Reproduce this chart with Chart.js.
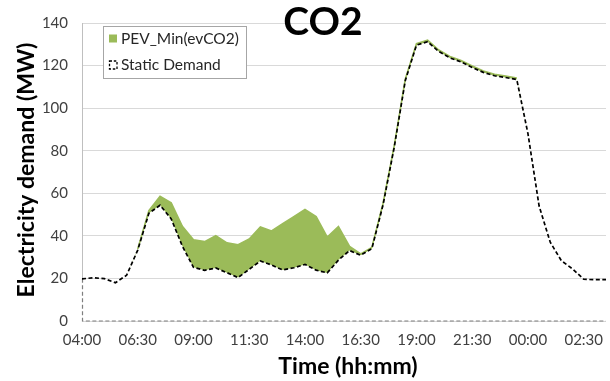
<!DOCTYPE html>
<html>
<head>
<meta charset="utf-8">
<style>
  html, body { margin: 0; padding: 0; overflow: hidden; background: #ffffff; }
  #wrap { width: 616px; height: 381px; position: relative; }
</style>
<script src="https://cdn.jsdelivr.net/npm/chart.js@4/dist/chart.umd.min.js"></script>
</head>
<body>
<div id="wrap"><canvas id="chart" width="616" height="381"></canvas></div>
<script>
// Half-hourly time slots over one day, starting at 04:00
const times = [
  '04:00','04:30','05:00','05:30','06:00','06:30','07:00','07:30',
  '08:00','08:30','09:00','09:30','10:00','10:30','11:00','11:30',
  '12:00','12:30','13:00','13:30','14:00','14:30','15:00','15:30',
  '16:00','16:30','17:00','17:30','18:00','18:30','19:00','19:30',
  '20:00','20:30','21:00','21:30','22:00','22:30','23:00','23:30',
  '00:00','00:30','01:00','01:30','02:00','02:30','03:00','03:30'
];

// Labels shown on the time axis
const timeTicks = ['04:00','06:30','09:00','11:30','14:00','16:30','19:00','21:30','00:00','02:30'];

// Base (static) electricity demand, MW
const staticDemand = [
  19.8, 20.3, 19.9, 18.0, 21.5, 33.3, 50.6, 54.4,
  48.0, 35.2, 25.2, 23.8, 24.9, 22.7, 20.4, 24.3,
  28.2, 26.3, 24.0, 25.0, 26.6, 23.9, 22.6, 28.6,
  33.1, 30.9, 34.0, 54.5, 81.5, 113.0, 129.6, 131.2,
  126.6, 123.6, 121.7, 119.1, 116.8, 115.2, 114.4, 113.4,
  88.0, 54.0, 37.0, 28.3, 24.5, 19.6, 19.4, 19.4
];

// Additional PEV charging load (CO2-minimising schedule), MW, stacked on the static demand
const pevMinCO2 = [
  0, 0, 0, 0, 0, 0.5, 1.2, 4.2,
  7.5, 9.3, 13.0, 13.5, 15.2, 14.0, 15.4, 14.2,
  16.0, 16.0, 21.7, 24.0, 25.8, 25.2, 16.8, 15.8,
  2.0, 0.6, 0.6, 0.7, 0.7, 0.7, 0.7, 0.7,
  0.7, 0.7, 0.7, 0.7, 0.7, 0.7, 0.7, 0.7,
  0, 0, 0, 0, 0, 0, 0, 0
];

// Demand axis range
const yMin = 0;
const yMax = 140;
const yStep = 20;

const GREEN = '#9BBB59';
const TEXT = '#404040';
const FONT = 'Lato, "Open Sans", sans-serif';

// Axis line, dashed outline of the static-demand area, titles and legend box
const decor = {
  id: 'decor',
  beforeDatasetsDraw(chart) {
    const { ctx, chartArea } = chart;
    const y = chart.scales.y;
    const y0 = y.getPixelForValue(0);
    const yFirst = y.getPixelForValue(staticDemand[0]);
    ctx.save();
    // solid vertical axis line above the area
    ctx.strokeStyle = '#BFBFBF';
    ctx.lineWidth = 1;
    ctx.beginPath();
    ctx.moveTo(chartArea.left + 0.5, chartArea.top);
    ctx.lineTo(chartArea.left + 0.5, yFirst);
    ctx.stroke();
    // dashed outline of the static-demand area along the base and left edge
    ctx.strokeStyle = '#7F7F7F';
    ctx.lineWidth = 1.2;
    ctx.setLineDash([4, 2.5]);
    ctx.beginPath();
    ctx.moveTo(chartArea.left + 0.5, yFirst);
    ctx.lineTo(chartArea.left + 0.5, y0);
    ctx.lineTo(chartArea.right, y0);
    ctx.stroke();
    ctx.restore();
  },
  afterDraw(chart) {
    const { ctx } = chart;
    ctx.save();
    // chart title
    ctx.fillStyle = '#000000';
    ctx.font = 'bold 39px ' + FONT;
    ctx.textAlign = 'center';
    ctx.textBaseline = 'middle';
    ctx.fillText('CO2', 323, 22);

    // axis titles
    ctx.font = 'bold 23px ' + FONT;
    ctx.fillText('Time (hh:mm)', 348, 367);
    ctx.save();
    ctx.translate(27, 170);
    ctx.rotate(-Math.PI / 2);
    ctx.fillText('Electricity demand (MW)', 0, 0);
    ctx.restore();

    // legend box
    const bx = 103, by = 26, bw = 143, bh = 52;
    ctx.fillStyle = '#FFFFFF';
    ctx.fillRect(bx, by, bw, bh);
    ctx.strokeStyle = '#A6A6A6';
    ctx.lineWidth = 1;
    ctx.strokeRect(bx + 0.5, by + 0.5, bw, bh);

    const items = chart.data.datasets.slice().reverse();
    items.forEach((ds, i) => {
      const cy = 38.5 + i * 26.5;
      if (ds.fill) {
        ctx.fillStyle = GREEN;
        ctx.fillRect(109, cy - 4, 8, 8);
      } else {
        ctx.strokeStyle = '#000000';
        ctx.lineWidth = 1.3;
        ctx.setLineDash([2.5, 1.8]);
        ctx.strokeRect(109.5, cy - 4, 7.5, 8);
        ctx.setLineDash([]);
      }
      ctx.fillStyle = '#262626';
      ctx.font = '15.5px ' + FONT;
      ctx.textAlign = 'left';
      ctx.textBaseline = 'middle';
      ctx.fillText(ds.label, 121, cy);
    });
    ctx.restore();
  }
};

new Chart(document.getElementById('chart'), {
  type: 'line',
  data: {
    labels: times,
    datasets: [
      {
        label: 'Static Demand',
        data: staticDemand,
        borderColor: '#000000',
        borderWidth: 1.7,
        borderDash: [4, 2.5],
        fill: false,
        pointRadius: 0,
        tension: 0
      },
      {
        label: 'PEV_Min(evCO2)',
        data: pevMinCO2,
        borderColor: GREEN,
        backgroundColor: GREEN,
        borderWidth: 1.6,
        fill: '-1',
        pointRadius: 0,
        tension: 0,
        segment: {
          borderColor: c => (pevMinCO2[c.p0DataIndex] > 0 && pevMinCO2[c.p1DataIndex] > 0) ? GREEN : 'rgba(0,0,0,0)'
        }
      }
    ]
  },
  options: {
    responsive: false,
    animation: false,
    devicePixelRatio: 1,
    layout: { padding: { top: 16, right: 3, left: 0, bottom: 0 } },
    plugins: {
      legend: { display: false },
      tooltip: { enabled: false },
      title: { display: false }
    },
    scales: {
      x: {
        offset: false,
        grid: { display: false, drawTicks: false },
        border: { display: false },
        afterFit: s => { s.height = 60; },
        ticks: {
          autoSkip: false,
          maxRotation: 0,
          padding: 10,
          color: TEXT,
          font: { family: FONT, size: 15 },
          callback: function (v, i) {
            const lab = times[i];
            return timeTicks.includes(lab) ? lab : '';
          }
        }
      },
      y: {
        stacked: true,
        min: yMin,
        max: yMax,
        grid: { color: '#D9D9D9', lineWidth: 1, drawTicks: false },
        border: { display: false },
        afterFit: s => { s.width = 82; },
        ticks: {
          stepSize: yStep,
          padding: 14,
          color: TEXT,
          font: { family: FONT, size: 15 }
        }
      }
    }
  },
  plugins: [decor]
});
</script>
</body>
</html>
